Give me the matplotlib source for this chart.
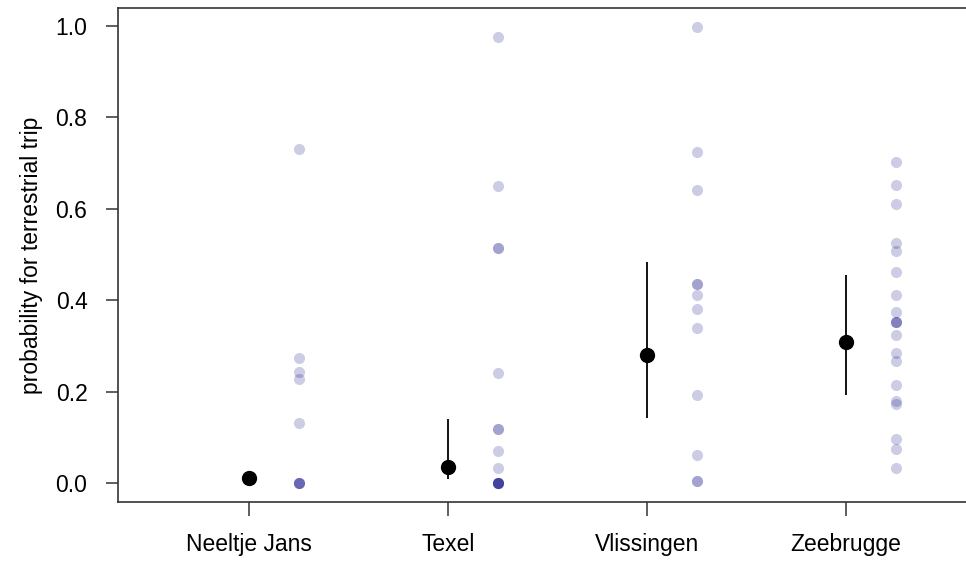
import matplotlib
matplotlib.use("Agg")
import matplotlib.pyplot as plt
import numpy as np

plt.rcParams['font.family'] = ['Liberation Sans', 'DejaVu Sans']

sites = ["Neeltje Jans", "Texel", "Vlissingen", "Zeebrugge"]

# model estimates with confidence limits
est = [0.011, 0.035, 0.280, 0.309]
lower = [0.003, 0.009, 0.142, 0.193]
upper = [0.022, 0.140, 0.484, 0.455]

# per-individual observed proportions
obs_neeltje = [0.731, 0.274, 0.242, 0.227, 0.131, 0.0, 0.0, 0.0, 0.0]
obs_texel = [0.975, 0.649, 0.515, 0.515, 0.240, 0.119, 0.119, 0.069, 0.032,
             0.0, 0.0, 0.0, 0.0, 0.0, 0.0]
obs_vlissingen = [0.997, 0.724, 0.641, 0.435, 0.435, 0.411, 0.381, 0.340,
                  0.193, 0.062, 0.004, 0.004]
obs_zeebrugge = [0.702, 0.652, 0.610, 0.524, 0.508, 0.461, 0.411, 0.374,
                 0.352, 0.352, 0.352, 0.324, 0.285, 0.266, 0.214, 0.180,
                 0.173, 0.096, 0.074, 0.032]
observed = [obs_neeltje, obs_texel, obs_vlissingen, obs_zeebrugge]

fig = plt.figure(figsize=(9.66, 5.61), dpi=100)
ax = fig.add_axes([118 / 966, 59 / 561, 848 / 966, 494 / 561])

pos = np.arange(1, len(sites) + 1)
for p, vals in zip(pos, observed):
    ax.plot(np.full(len(vals), p + 0.25), vals, 'o', color='navy', alpha=0.2,
            markersize=8, markeredgewidth=0)

ax.vlines(pos, lower, upper, color='black', linewidth=1.3, zorder=3)
ax.plot(pos, est, 'o', color='black', markersize=10, zorder=4)

ax.set_xlim(0.342, 4.603)
ax.set_ylim(-0.0416, 1.039)
ax.set_xticks(pos)
ax.set_xticklabels(sites, fontsize=16.5)
ax.set_yticks(np.arange(0, 1.01, 0.2))
ax.set_yticklabels([f"{v:.1f}" for v in np.arange(0, 1.01, 0.2)], fontsize=16.5)
ax.tick_params(axis='y', length=9, width=1.1, pad=13, color='#333333')
ax.tick_params(axis='x', length=10, width=1.1, pad=12, color='#333333')
ax.set_ylabel("probability for terrestrial trip", fontsize=16.5, labelpad=9)

ax.spines['right'].set_visible(False)
for s in ['left', 'top', 'bottom']:
    ax.spines[s].set_color('#333333')
    ax.spines[s].set_linewidth(1.2)

fig.savefig("out.png", dpi=100)
